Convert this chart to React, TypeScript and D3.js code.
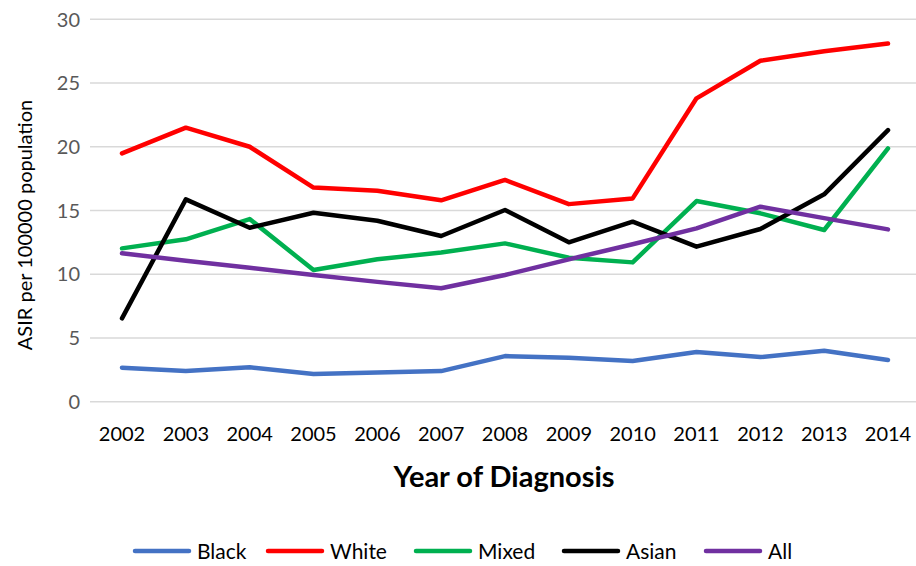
import React from 'react';
import * as d3 from 'd3';

const years = ['2002', '2003', '2004', '2005', '2006', '2007', '2008', '2009', '2010', '2011', '2012', '2013', '2014'];
const black = [2.67, 2.4, 2.7, 2.17, 2.3, 2.4, 3.58, 3.45, 3.2, 3.9, 3.5, 4.0, 3.27];
const white = [19.48, 21.5, 20.0, 16.8, 16.55, 15.8, 17.4, 15.5, 15.95, 23.8, 26.75, 27.5, 28.1];
const mixed = [12.03, 12.74, 14.33, 10.33, 11.17, 11.7, 12.42, 11.3, 10.93, 15.74, 14.78, 13.47, 19.87];
const asian = [6.54, 15.87, 13.65, 14.82, 14.2, 13.0, 15.04, 12.5, 14.12, 12.16, 13.55, 16.27, 21.3];
const all = [11.64, 11.06, 10.5, 9.94, 9.4, 8.9, 9.94, 11.17, 12.35, 13.6, 15.3, 14.4, 13.52];
const yTicks = [0, 5, 10, 15, 20, 25, 30];

const series = [
  { name: 'Black', values: black, color: '#4472C4' },
  { name: 'White', values: white, color: '#FF0000' },
  { name: 'Mixed', values: mixed, color: '#00B050' },
  { name: 'Asian', values: asian, color: '#000000' },
  { name: 'All', values: all, color: '#7030A0' },
];

const W = 916;
const H = 566;
const FONT = 'Lato, "Open Sans", sans-serif';

export default function App() {
  const x = d3.scalePoint<string>().domain(years).range([122, 888]);
  const y = d3.scaleLinear().domain([0, 30]).range([401.7, 19.3]);
  const line = d3.line<number>()
    .x((_, i) => x(years[i]) as number)
    .y(d => y(d));

  // legend slots (line start x)
  const legendX = [135, 268, 416, 564, 706];

  return (
    <>
      <style>{'body{margin:0}'}</style>
      <svg width={W} height={H} style={{ display: 'block', background: '#fff' }} fontFamily={FONT}>
        {yTicks.map(t => (
          <g key={t}>
            <line x1={90} x2={916} y1={y(t)} y2={y(t)} stroke="#d9d9d9" strokeWidth={1.5} />
            <text x={80} y={y(t)} dy="0.36em" textAnchor="end" fontSize={20} fill="#595959">{t}</text>
          </g>
        ))}
        {years.map(yr => (
          <text key={yr} x={x(yr)} y={441} textAnchor="middle" fontSize={20} fill="#000">{yr}</text>
        ))}
        <text x={504} y={487} textAnchor="middle" fontSize={29} fontWeight="bold" fill="#000">Year of Diagnosis</text>
        <text transform={`translate(32,${225}) rotate(-90)`} textAnchor="middle" fontSize={20} fill="#000">ASIR per 100000 population</text>
        {series.map(s => (
          <path key={s.name} d={line(s.values) || ''} fill="none" stroke={s.color} strokeWidth={4.5} strokeLinejoin="round" strokeLinecap="round" />
        ))}
        {series.map((s, i) => (
          <g key={s.name} transform={`translate(${legendX[i]},551)`}>
            <line x1={0} x2={54} y1={0} y2={0} stroke={s.color} strokeWidth={4.5} strokeLinecap="round" />
            <text x={62} y={0} dy="0.36em" fontSize={21} fill="#000">{s.name}</text>
          </g>
        ))}
      </svg>
    </>
  );
}
